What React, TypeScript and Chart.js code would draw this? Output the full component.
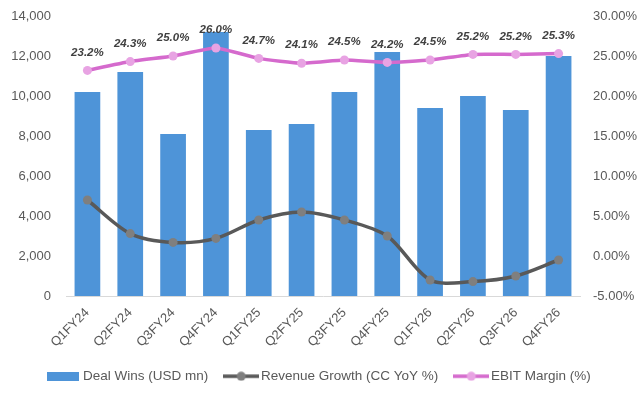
import React, { useEffect, useRef } from "react";
import { Chart, registerables } from "chart.js";

Chart.register(...registerables);

const categories = ["Q1FY24", "Q2FY24", "Q3FY24", "Q4FY24", "Q1FY25", "Q2FY25", "Q3FY25", "Q4FY25", "Q1FY26", "Q2FY26", "Q3FY26", "Q4FY26"];
const dealWins = [10200, 11200, 8100, 13200, 8300, 8600, 10200, 12200, 9400, 10000, 9300, 12000];
const revenueGrowth = [7.0, 2.8, 1.7, 2.2, 4.5, 5.5, 4.5, 2.5, -3.0, -3.2, -2.5, -0.5];
const ebitMargin = [23.2, 24.3, 25.0, 26.0, 24.7, 24.1, 24.5, 24.2, 24.5, 25.2, 25.2, 25.3];

const FONT = "'Liberation Sans', Arial, sans-serif";
const BAR = "#4E94D8";
const REV_LINE = "#595959";
const REV_PT = "#7F7F7F";
const EBIT_LINE = "#D56ACD";
const EBIT_PT = "#E8A3E3";

function makeRectIcon(w: number, h: number, color: string) {
  const c = document.createElement("canvas");
  c.width = w;
  c.height = h;
  const ctx = c.getContext("2d")!;
  ctx.fillStyle = color;
  ctx.fillRect(0, 0, w, h);
  return c;
}

function makeLineIcon(w: number, h: number, line: string, pt: string) {
  const c = document.createElement("canvas");
  c.width = w;
  c.height = h;
  const ctx = c.getContext("2d")!;
  ctx.strokeStyle = line;
  ctx.lineWidth = 3.5;
  ctx.beginPath();
  ctx.moveTo(0, h / 2);
  ctx.lineTo(w, h / 2);
  ctx.stroke();
  ctx.fillStyle = pt;
  ctx.beginPath();
  ctx.arc(w / 2, h / 2, 4.5, 0, Math.PI * 2);
  ctx.fill();
  return c;
}

const labelPlugin = {
  id: "ebitLabels",
  afterDatasetsDraw(chart: any) {
    const meta = chart.getDatasetMeta(2);
    const ctx = chart.ctx;
    ctx.save();
    ctx.font = `italic bold 11.5px ${FONT}`;
    ctx.fillStyle = "#404040";
    ctx.textAlign = "center";
    ctx.textBaseline = "middle";
    meta.data.forEach((p: any, i: number) => {
      ctx.fillText(ebitMargin[i].toFixed(1) + "%", p.x, p.y - 18);
    });
    ctx.restore();
  },
};

export default function App() {
  const ref = useRef<HTMLCanvasElement>(null);
  useEffect(() => {
    document.body.style.margin = "0";
    const barIcon = makeRectIcon(32, 9, BAR);
    const revIcon = makeLineIcon(36, 10, REV_LINE, REV_PT);
    const ebitIcon = makeLineIcon(36, 10, EBIT_LINE, EBIT_PT);
    const chart = new Chart(ref.current!, {
      type: "bar",
      data: {
        labels: categories,
        datasets: [
          {
            type: "bar",
            label: "Deal Wins (USD mn)",
            data: dealWins,
            backgroundColor: BAR,
            yAxisID: "y",
            order: 10,
            categoryPercentage: 1,
            barPercentage: 0.6,
          },
          {
            type: "line",
            label: "Revenue Growth (CC YoY %)",
            data: revenueGrowth,
            borderColor: REV_LINE,
            borderWidth: 3.5,
            backgroundColor: REV_PT,
            pointBackgroundColor: REV_PT,
            pointBorderWidth: 0,
            pointRadius: 4.5,
            tension: 0.3,
            yAxisID: "y1",
            order: 2,
          },
          {
            type: "line",
            label: "EBIT Margin (%)",
            data: ebitMargin,
            borderColor: EBIT_LINE,
            borderWidth: 3.5,
            backgroundColor: EBIT_PT,
            pointBackgroundColor: EBIT_PT,
            pointBorderWidth: 0,
            pointRadius: 4.5,
            tension: 0.15,
            yAxisID: "y1",
            order: 1,
          },
        ] as any,
      },
      options: {
        animation: false,
        responsive: false,
        maintainAspectRatio: false,
        layout: { padding: { top: 16, left: 0, right: 0, bottom: 0 } },
        plugins: {
          tooltip: { enabled: false },
          legend: {
            position: "bottom",
            labels: {
              usePointStyle: true,
              pointStyleWidth: 26,
              padding: 20,
              color: "#595959",
              font: { family: FONT, size: 13.5 },
              generateLabels: () => [
                { text: "Deal Wins (USD mn)", pointStyle: barIcon, datasetIndex: 0, fontColor: "#595959", lineWidth: 0 } as any,
                { text: "Revenue Growth (CC YoY %)", pointStyle: revIcon, datasetIndex: 1, fontColor: "#595959", lineWidth: 0 } as any,
                { text: "EBIT Margin (%)", pointStyle: ebitIcon, datasetIndex: 2, fontColor: "#595959", lineWidth: 0 } as any,
              ],
            },
          },
        },
        scales: {
          x: {
            grid: { display: false },
            border: { display: true, color: "#D9D9D9", width: 1 },
            ticks: {
              color: "#595959",
              font: { family: FONT, size: 13 },
              maxRotation: 45,
              minRotation: 45,
              padding: 1,
            },
            afterFit: (s: any) => {
              s.height = 53.5;
            },
          },
          y: {
            position: "left",
            min: 0,
            max: 14000,
            grid: { display: false },
            border: { display: false },
            ticks: {
              stepSize: 2000,
              color: "#595959",
              font: { family: FONT, size: 13 },
              padding: 7,
              callback: (v: any) => Number(v).toLocaleString("en-US"),
            },
            afterFit: (s: any) => {
              s.width = 66;
            },
          },
          y1: {
            position: "right",
            min: -5,
            max: 30,
            grid: { display: false },
            border: { display: false },
            ticks: {
              stepSize: 5,
              color: "#595959",
              font: { family: FONT, size: 13 },
              padding: 5,
              callback: (v: any) => Number(v).toFixed(2) + "%",
            },
            afterFit: (s: any) => {
              s.width = 61;
            },
          },
        },
      } as any,
      plugins: [labelPlugin],
    });
    return () => chart.destroy();
  }, []);
  return <canvas ref={ref} width={641} height={393} style={{ display: "block", width: 641, height: 393 }} />;
}
